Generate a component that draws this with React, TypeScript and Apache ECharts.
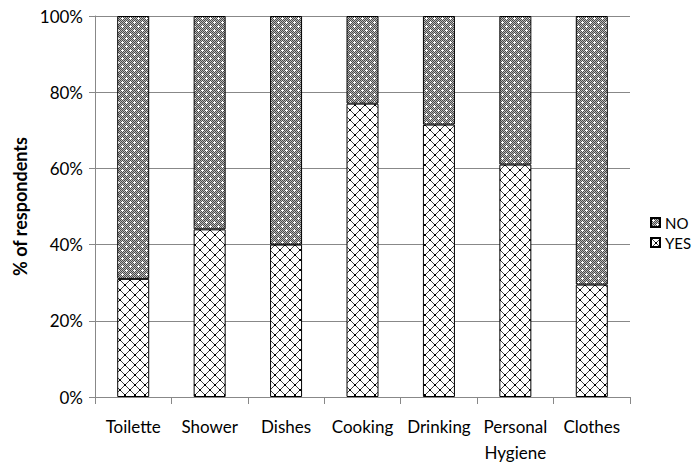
import React, { useEffect, useRef } from "react";
import * as echarts from "echarts";

const categories = ["Toilette", "Shower", "Dishes", "Cooking", "Drinking", "Personal\nHygiene", "Clothes"];
const yesValues = [31, 44, 40, 77, 71.5, 61, 29.5];
const noValues = yesValues.map((v) => 100 - v);
const yTicks = [0, 20, 40, 60, 80, 100];

function makeNoPattern(): HTMLCanvasElement {
  const c = document.createElement("canvas");
  c.width = 8;
  c.height = 8;
  const ctx = c.getContext("2d")!;
  for (let y = 0; y < 8; y++) {
    for (let x = 0; x < 8; x++) {
      ctx.fillStyle = (x + y) % 2 === 0 ? "#4a4a4a" : "#b8b8b8";
      ctx.fillRect(x, y, 1, 1);
    }
  }
  ctx.fillStyle = "#ffffff";
  const plus = (px: number, py: number) => {
    ctx.fillRect(px, py, 1, 1);
    ctx.fillRect(px - 1, py, 1, 1);
    ctx.fillRect(px + 1, py, 1, 1);
    ctx.fillRect(px, py - 1, 1, 1);
    ctx.fillRect(px, py + 1, 1, 1);
  };
  plus(2, 2);
  plus(6, 6);
  return c;
}

function makeYesPattern(): HTMLCanvasElement {
  const c = document.createElement("canvas");
  c.width = 10;
  c.height = 10;
  const ctx = c.getContext("2d")!;
  ctx.fillStyle = "#ffffff";
  ctx.fillRect(0, 0, 10, 10);
  ctx.strokeStyle = "#444444";
  ctx.lineWidth = 1;
  ctx.beginPath();
  ctx.moveTo(0, 0);
  ctx.lineTo(10, 10);
  ctx.moveTo(10, 0);
  ctx.lineTo(0, 10);
  ctx.stroke();
  ctx.fillStyle = "#000000";
  ctx.fillRect(4, 4, 2, 2);
  ctx.fillRect(0, 0, 1, 1);
  ctx.fillRect(9, 9, 1, 1);
  ctx.fillRect(9, 0, 1, 1);
  ctx.fillRect(0, 9, 1, 1);
  return c;
}

const FONT = "Lato, 'Open Sans', 'Noto Sans', sans-serif";

export default function App() {
  const ref = useRef<HTMLDivElement>(null);
  useEffect(() => {
    if (!ref.current) return;
    const chart = echarts.init(ref.current, null, { renderer: "svg" });
    const noPat = { image: makeNoPattern(), repeat: "repeat" as const };
    const yesPat = { image: makeYesPattern(), repeat: "repeat" as const };
    chart.setOption({
      animation: false,
      backgroundColor: "#ffffff",
      grid: { left: 95, right: 67, top: 16, bottom: 77, containLabel: false },
      legend: {
        orient: "vertical",
        left: 650,
        top: 215,
        icon: "rect",
        itemWidth: 9,
        itemHeight: 9,
        itemGap: 5,
        padding: 0,
        data: ["NO", "YES"],
        textStyle: { fontFamily: FONT, fontSize: 15, color: "#000" },
      },
      xAxis: {
        type: "category",
        data: categories,
        axisLine: { lineStyle: { color: "#888888", width: 1 } },
        axisTick: { show: true, alignWithLabel: false, length: 7, lineStyle: { color: "#888888" } },
        axisLabel: {
          fontFamily: FONT,
          fontSize: 17,
          color: "#000",
          margin: 16,
          lineHeight: 26,
          interval: 0,
        },
      },
      yAxis: {
        type: "value",
        min: 0,
        max: 100,
        interval: 20,
        name: "% of respondents",
        nameLocation: "middle",
        nameGap: 66,
        nameTextStyle: { fontFamily: FONT, fontSize: 18, fontWeight: "bold", color: "#000" },
        axisLine: { show: true, lineStyle: { color: "#888888" } },
        axisTick: { show: true, length: 6, lineStyle: { color: "#888888" } },
        splitLine: { show: true, lineStyle: { color: "#888888", width: 1 } },
        axisLabel: {
          fontFamily: FONT,
          fontSize: 17,
          color: "#000",
          margin: 12,
          formatter: (v: number) => (yTicks.includes(v) ? v + "%" : ""),
        },
      },
      series: [
        {
          name: "YES",
          type: "bar",
          stack: "s",
          data: yesValues,
          barWidth: 32,
          itemStyle: { color: yesPat, borderColor: "#000", borderWidth: 1 },
        },
        {
          name: "NO",
          type: "bar",
          stack: "s",
          data: noValues,
          barWidth: 32,
          itemStyle: { color: noPat, borderColor: "#000", borderWidth: 1 },
        },
      ],
    });
    return () => chart.dispose();
  }, []);
  return <div ref={ref} style={{ width: 697, height: 474, position: "absolute", left: 0, top: 0 }} />;
}
